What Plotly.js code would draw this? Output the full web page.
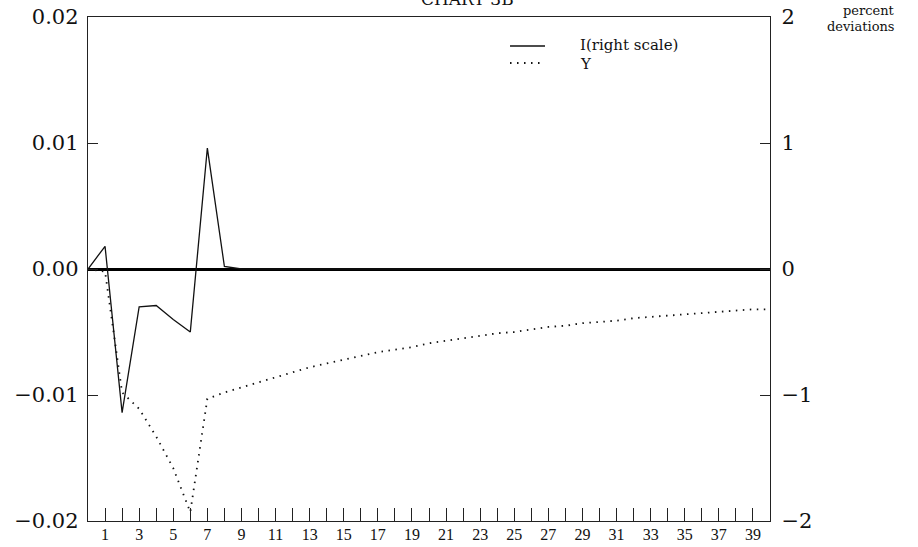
<!DOCTYPE html>
<html>
<head>
<meta charset="utf-8">
<script src="https://cdn.plot.ly/plotly-3.0.1.min.js"></script>
<style>html,body{margin:0;padding:0;background:#fff;}#chart{width:918px;height:547px;}</style>
</head>
<body>
<div id="chart"></div>
<script>
// Periods 0..40
const periods = [0,1,2,3,4,5,6,7,8,9,10,11,12,13,14,15,16,17,18,19,20,21,22,23,24,25,26,27,28,29,30,31,32,33,34,35,36,37,38,39,40];
// I, percent deviations (right scale)
const seriesI = [0,0.18,-1.14,-0.30,-0.29,-0.40,-0.50,0.96,0.02,0,0,0,0,0,0,0,0,0,0,0,0,0,0,0,0,0,0,0,0,0,0,0,0,0,0,0,0,0,0,0,0];
// Y (left scale)
const seriesY = [0,-0.0002,-0.0098,-0.0111,-0.0133,-0.0158,-0.0193,-0.0103,-0.0098,-0.0094,-0.0090,-0.0086,-0.0082,-0.0078,-0.0075,-0.0072,-0.0069,-0.0066,-0.0064,-0.0062,-0.0059,-0.0057,-0.0055,-0.0053,-0.0051,-0.0050,-0.0048,-0.0046,-0.0045,-0.0043,-0.0042,-0.0041,-0.0039,-0.0038,-0.0037,-0.0036,-0.0035,-0.0034,-0.0033,-0.0032,-0.0032];
const xTickVals = [1,2,3,4,5,6,7,8,9,10,11,12,13,14,15,16,17,18,19,20,21,22,23,24,25,26,27,28,29,30,31,32,33,34,35,36,37,38,39];
const xTickText = ["1","","3","","5","","7","","9","","11","","13","","15","","17","","19","","21","","23","","25","","27","","29","","31","","33","","35","","37","","39"];
const leftTicks = [-0.02,-0.01,0,0.01,0.02];
const leftTickText = ["\u22120.02","\u22120.01","0.00","0.01","0.02"];
const rightTicks = [-2,-1,0,1,2];
const rightTickText = ["\u22122","\u22121","0","1","2"];
const seriesNames = ["I(right scale)", "Y"];
const titleText = "CHART 3B";

const serif = "Liberation Serif, DejaVu Serif, serif";
const wide = "DejaVu Serif, Liberation Serif, serif";
const dotDash = '1.5px,5.5px';

const traces = [
  {x: periods, y: seriesI, yaxis: 'y2', name: seriesNames[0], mode: 'lines',
   line: {color: '#111', width: 1.3}},
  {x: periods, y: seriesY, yaxis: 'y', name: seriesNames[1], mode: 'lines',
   line: {color: '#111', width: 1.8, dash: dotDash}}
];

const layout = {
  width: 918, height: 547,
  margin: {l: 88, r: 148, t: 17, b: 26},
  paper_bgcolor: '#fff', plot_bgcolor: '#fff',
  font: {family: serif, size: 17, color: '#111'},
  showlegend: false,
  xaxis: {range: [0, 40], tickvals: xTickVals, ticktext: xTickText, ticks: 'inside', ticklen: 13,
          tickwidth: 1, tickcolor: '#222', showgrid: false, zeroline: false, showline: true,
          linecolor: '#222', linewidth: 1.2, mirror: true, tickfont: {family: serif, size: 16},
          ticklabelstandoff: -1},
  yaxis: {range: [-0.02, 0.02], tickvals: leftTicks, ticktext: leftTickText, ticks: 'inside',
          ticklen: 10, tickcolor: '#222', showgrid: false, zeroline: true, zerolinecolor: '#000',
          zerolinewidth: 3, showline: true, linecolor: '#222', linewidth: 1.2,
          tickfont: {family: wide, size: 21}, ticklabelstandoff: 4},
  yaxis2: {range: [-2, 2], overlaying: 'y', side: 'right', tickvals: rightTicks, ticktext: rightTickText,
           ticks: 'inside', ticklen: 10, tickcolor: '#222', showgrid: false, zeroline: false,
           showline: true, linecolor: '#222', linewidth: 1.2, tickfont: {family: wide, size: 21},
           ticklabelstandoff: 6},
  shapes: [
    {type: 'line', xref: 'paper', yref: 'paper', x0: 0.6188, x1: 0.6701, y0: 0.9425, y1: 0.9425,
     line: {color: '#111', width: 1.3}},
    {type: 'line', xref: 'paper', yref: 'paper', x0: 0.6188, x1: 0.6701, y0: 0.9087, y1: 0.9087,
     line: {color: '#111', width: 1.8, dash: dotDash}}
  ],
  annotations: [
    {text: seriesNames[0], xref: 'paper', yref: 'paper', x: 0.7185, y: 0.9445,
     xanchor: 'left', yanchor: 'middle', showarrow: false,
     font: {family: wide, size: 15, color: '#111'}},
    {text: seriesNames[1], xref: 'paper', yref: 'paper', x: 0.7185, y: 0.9067,
     xanchor: 'left', yanchor: 'middle', showarrow: false,
     font: {family: wide, size: 15, color: '#111'}},
    {text: 'percent', xref: 'paper', yref: 'paper', x: 1.186, y: 1.0127,
     xanchor: 'right', yanchor: 'middle', showarrow: false,
     font: {family: wide, size: 13, color: '#111'}},
    {text: 'deviations', xref: 'paper', yref: 'paper', x: 1.186, y: 0.9812,
     xanchor: 'right', yanchor: 'middle', showarrow: false,
     font: {family: wide, size: 13, color: '#111'}},
    {text: titleText, xref: 'paper', yref: 'paper', x: 0.556, y: 1.012,
     xanchor: 'center', yanchor: 'bottom', showarrow: false,
     font: {family: wide, size: 17, color: '#111'}}
  ]
};

Plotly.newPlot('chart', traces, layout, {displayModeBar: false, staticPlot: true});
</script>
</body>
</html>
